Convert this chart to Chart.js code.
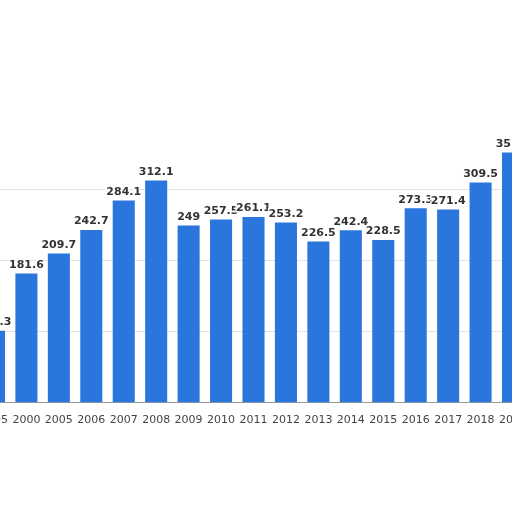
<!DOCTYPE html>
<html>
<head>
<meta charset="utf-8">
<script src="https://cdn.jsdelivr.net/npm/chart.js@4"></script>
<style>
  body { margin: 0; background: #fff; overflow: hidden; }
  #wrap { position: absolute; left: -23px; top: 0; width: 553px; height: 430px; }
</style>
</head>
<body>
<div id="wrap"><canvas id="chart"></canvas></div>
<script>
const years = ['1995', '2000', '2005', '2006', '2007', '2008', '2009', '2010', '2011', '2012', '2013',
    '2014', '2015', '2016', '2017', '2018', '2019'];
const values = [101.3, 181.6, 209.7, 242.7, 284.1, 312.1, 249, 257.5, 261.1, 253.2, 226.5,
    242.4, 228.5, 273.3, 271.4, 309.5, 351.4];

const value_labels = {
    id: 'value_labels',
    afterDatasetsDraw(chart) {
        const ctx = chart.ctx;
        const meta = chart.getDatasetMeta(0);
        ctx.save();
        ctx.font = 'bold 11px "DejaVu Sans"';
        ctx.textAlign = 'center';
        ctx.textBaseline = 'bottom';
        ctx.lineWidth = 3;
        ctx.strokeStyle = '#fff';
        ctx.fillStyle = '#333';
        meta.data.forEach((bar, i) => {
            const txt = String(values[i]);
            ctx.strokeText(txt, bar.x, bar.y - 3);
            ctx.fillText(txt, bar.x, bar.y - 3);
        });
        ctx.restore();
    }
};

new Chart(document.getElementById('chart'), {
    type: 'bar',
    data: {
        labels: years,
        datasets: [{
            data: values,
            backgroundColor: '#2a76dd',
            categoryPercentage: 0.68,
            barPercentage: 1
        }]
    },
    options: {
        responsive: true,
        maintainAspectRatio: false,
        animation: false,
        layout: { padding: { top: 118, left: 0, right: 0 } },
        plugins: { legend: { display: false }, tooltip: { enabled: false } },
        scales: {
            x: {
                offset: true,
                grid: { display: false },
                border: { color: '#999' },
                ticks: { color: '#444', font: { family: 'DejaVu Sans', size: 11 }, maxRotation: 0, autoSkip: false }
            },
            y: {
                display: true,
                min: 0,
                max: 400,
                ticks: { display: false, stepSize: 100 },
                border: { display: false },
                grid: {
                    color: ctx => ctx.tick.value === 400 ? 'rgba(0,0,0,0)' : '#e2e2e2',
                    drawTicks: false
                }
            }
        }
    },
    plugins: [value_labels]
});
</script>
</body>
</html>
